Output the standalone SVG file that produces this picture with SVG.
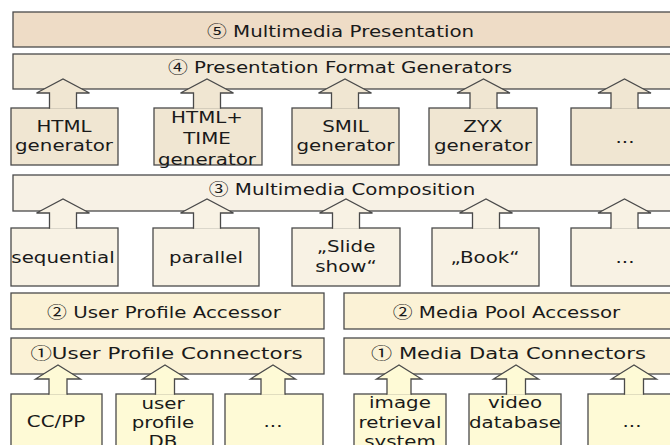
<svg xmlns="http://www.w3.org/2000/svg" width="670" height="445" viewBox="0 0 670 445">
<style>
.b{stroke:#4a4a4a;stroke-width:1.3}
.t{font-family:"DejaVu Sans",Verdana,sans-serif;font-size:16px;fill:#1a1a1a;text-anchor:middle}
.c{font-family:"Noto Sans CJK JP","DejaVu Sans",sans-serif;font-size:16px}
.l5{fill:#EEDCC6}
.l4{fill:#F2E9D7}
.gen{fill:#F0E6D2}
.l3{fill:#F7F1E5}
.comp{fill:#F8F2E4}
.l2{fill:#FBF2D6}
.bot{fill:#FEFAD6}
.a{stroke:#4a4a4a;stroke-width:1.3;stroke-linejoin:miter}
</style>
<rect width="670" height="445" fill="#ffffff"/>

<g id="layer5">
<rect class="b l5" x="13" y="12" width="670" height="35"/>
<text class="t" transform="translate(340.5,37) scale(1.24,1)"><tspan class="c">⑤</tspan> Multimedia Presentation</text>
</g>
<g id="layer4">
<rect class="b l4" x="13" y="54" width="670" height="35"/>
<text class="t" transform="translate(340,73) scale(1.24,1)"><tspan class="c">④</tspan> Presentation Format Generators</text>
</g>

<g id="gen-html">
<rect class="b gen" x="11" y="108" width="107" height="57"/>
<text class="t" transform="translate(64,132) scale(1.24,1)">HTML</text>
<text class="t" transform="translate(64,151) scale(1.24,1)">generator</text>
</g>
<g id="gen-htmltime">
<rect class="b gen" x="154" y="108" width="108" height="57"/>
<text class="t" transform="translate(207,123) scale(1.24,1)">HTML+</text>
<text class="t" transform="translate(207,144) scale(1.24,1)">TIME</text>
<text class="t" transform="translate(207,165) scale(1.24,1)">generator</text>
</g>
<g id="gen-smil">
<rect class="b gen" x="292" y="108" width="107" height="57"/>
<text class="t" transform="translate(345.5,132) scale(1.24,1)">SMIL</text>
<text class="t" transform="translate(345.5,151) scale(1.24,1)">generator</text>
</g>
<g id="gen-zyx">
<rect class="b gen" x="429" y="108" width="108" height="57"/>
<text class="t" transform="translate(483,132) scale(1.24,1)">ZYX</text>
<text class="t" transform="translate(483,151) scale(1.24,1)">generator</text>
</g>
<g id="gen-more">
<rect class="b gen" x="571" y="108" width="110" height="57"/>
<text class="t" transform="translate(625,143) scale(1.24,1)">...</text>
</g>

<g id="layer3">
<rect class="b l3" x="13" y="175" width="670" height="36"/>
<text class="t" transform="translate(342,195) scale(1.24,1)"><tspan class="c">③</tspan> Multimedia Composition</text>
</g>

<g id="comp-seq">
<rect class="b comp" x="11" y="228" width="107" height="58"/>
<text class="t" transform="translate(63,263) scale(1.24,1)">sequential</text>
</g>
<g id="comp-par">
<rect class="b comp" x="153" y="228" width="106" height="58"/>
<text class="t" transform="translate(206,263) scale(1.24,1)">parallel</text>
</g>
<g id="comp-slide">
<rect class="b comp" x="292" y="228" width="108" height="58"/>
<text class="t" transform="translate(346,252) scale(1.24,1)">„Slide</text>
<text class="t" transform="translate(346,272) scale(1.24,1)">show“</text>
</g>
<g id="comp-book">
<rect class="b comp" x="432" y="228" width="107" height="58"/>
<text class="t" transform="translate(485,263) scale(1.24,1)">„Book“</text>
</g>
<g id="comp-more">
<rect class="b comp" x="571" y="228" width="110" height="58"/>
<text class="t" transform="translate(625,263) scale(1.24,1)">...</text>
</g>

<g id="upa">
<rect class="b l2" x="11" y="293" width="313" height="36"/>
<text class="t" transform="translate(164,318) scale(1.24,1)"><tspan class="c">②</tspan> User Profile Accessor</text>
</g>
<g id="mpa">
<rect class="b l2" x="344" y="293" width="340" height="36"/>
<text class="t" transform="translate(506.5,318) scale(1.24,1)"><tspan class="c">②</tspan> Media Pool Accessor</text>
</g>

<g id="upc">
<rect class="b l2" x="11" y="338" width="313" height="36"/>
<text class="t" transform="translate(166.5,359) scale(1.34,1)"><tspan class="c">①</tspan>User Profile Connectors</text>
</g>
<g id="mdc">
<rect class="b l2" x="344" y="338" width="340" height="36"/>
<text class="t" transform="translate(508.5,359) scale(1.32,1)"><tspan class="c">①</tspan> Media Data Connectors</text>
</g>

<g id="ccpp">
<rect class="b bot" x="11" y="394" width="91" height="70"/>
<text class="t" transform="translate(56,427) scale(1.24,1)">CC/PP</text>
</g>
<g id="updb">
<rect class="b bot" x="116" y="394" width="97" height="70"/>
<text class="t" transform="translate(163,409) scale(1.24,1)">user</text>
<text class="t" transform="translate(163,428) scale(1.24,1)">profile</text>
<text class="t" transform="translate(163,447) scale(1.24,1)">DB</text>
</g>
<g id="up-more">
<rect class="b bot" x="225" y="394" width="98" height="70"/>
<text class="t" transform="translate(273,427) scale(1.24,1)">...</text>
</g>
<g id="imgret">
<rect class="b bot" x="354" y="394" width="92" height="70"/>
<text class="t" transform="translate(400,408) scale(1.24,1)">image</text>
<text class="t" transform="translate(400,428) scale(1.24,1)">retrieval</text>
<text class="t" transform="translate(400,447) scale(1.24,1)">system</text>
</g>
<g id="videodb">
<rect class="b bot" x="469" y="394" width="92" height="70"/>
<text class="t" transform="translate(515,408) scale(1.24,1)">video</text>
<text class="t" transform="translate(515,428) scale(1.24,1)">database</text>
</g>
<g id="md-more">
<rect class="b bot" x="588" y="394" width="95" height="70"/>
<text class="t" transform="translate(632,427) scale(1.24,1)">...</text>
</g>

<g id="connectors">
<g class="a gen">
<path d="M49.5,108.8 V93 H36.5 L63,79 L89.5,93 H76.5 V108.8"/>
<path d="M193.5,108.8 V93 H180.5 L207,79 L233.5,93 H220.5 V108.8"/>
<path d="M331.5,108.8 V93 H318.5 L345,79 L371.5,93 H358.5 V108.8"/>
<path d="M470,108.8 V93 H457 L483.5,79 L510,93 H497 V108.8"/>
<path d="M611,108.8 V93 H598 L624.5,79 L651,93 H638 V108.8"/>
</g>
<g class="a comp">
<path d="M49.5,228.8 V213 H36.5 L63,199 L89.5,213 H76.5 V228.8"/>
<path d="M193.5,228.8 V213 H180.5 L207,199 L233.5,213 H220.5 V228.8"/>
<path d="M332.5,228.8 V213 H319.5 L346,199 L372.5,213 H359.5 V228.8"/>
<path d="M472.5,228.8 V213 H459.5 L486,199 L512.5,213 H499.5 V228.8"/>
<path d="M611,228.8 V213 H598 L624.5,199 L651,213 H638 V228.8"/>
</g>
<g class="a bot">
<path d="M49,394.8 V379 H35.5 L58,365 L80.5,379 H67 V394.8"/>
<path d="M155.5,394.8 V379 H142.5 L165,365 L187.5,379 H174.5 V394.8"/>
<path d="M261,394.8 V379 H250.5 L273,365 L295.5,379 H285 V394.8"/>
<path d="M387,394.8 V379 H376.5 L399,365 L421.5,379 H411 V394.8"/>
<path d="M506.5,394.8 V379 H493.5 L516,365 L538.5,379 H525.5 V394.8"/>
<path d="M624.5,394.8 V379 H611.5 L634,365 L656.5,379 H643.5 V394.8"/>
</g>
</g>
</svg>
